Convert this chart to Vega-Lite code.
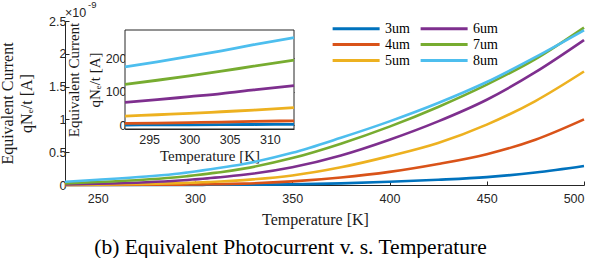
{
  "$schema": "https://vega.github.io/schema/vega-lite/v6.json",
  "width": 519,
  "height": 164,
  "autosize": {"type": "none"},
  "padding": {"left": 65, "top": 21, "right": 14, "bottom": 73},
  "background": "white",
  "config": {
    "view": {"stroke": null},
    "axis": {
      "grid": false,
      "domainColor": "#262626",
      "tickColor": "#262626",
      "labelColor": "#262626",
      "titleColor": "#1a1a1a",
      "labelFont": "Liberation Sans",
      "labelFontSize": 12.5,
      "labelOverlap": false,
      "titleFont": "Liberation Serif",
      "titleFontWeight": "normal",
      "titleFontSize": 16,
      "tickSize": -4,
      "domainWidth": 1,
      "tickWidth": 1
    },
    "legend": {
      "orient": "none",
      "legendX": 266,
      "legendY": 0,
      "columns": 2,
      "padding": 0,
      "symbolType": "M-1,0H7",
      "symbolSize": 138,
      "symbolStrokeWidth": 3,
      "labelOffset": 39,
      "labelFont": "Liberation Serif",
      "labelFontSize": 14,
      "labelFontWeight": "normal",
      "labelColor": "#000000",
      "rowPadding": 1,
      "columnPadding": 4
    }
  },
  "title": {
    "text": "(b) Equivalent Photocurrent v. s. Temperature",
    "orient": "bottom",
    "anchor": "middle",
    "font": "Liberation Serif",
    "fontSize": 21.5,
    "fontWeight": "normal",
    "color": "#000000",
    "dx": -34,
    "offset": 9
  },
  "datasets": {
    "pc": [
      {"T": 233.15, "d": "3um", "I": 0.0001}, {"T": 233.15, "d": "4um", "I": 0.0003}, {"T": 233.15, "d": "5um", "I": 0.002}, {"T": 233.15, "d": "6um", "I": 0.008}, {"T": 233.15, "d": "7um", "I": 0.025}, {"T": 233.15, "d": "8um", "I": 0.05},
      {"T": 250, "d": "3um", "I": 0.0002}, {"T": 250, "d": "4um", "I": 0.001}, {"T": 250, "d": "5um", "I": 0.006}, {"T": 250, "d": "6um", "I": 0.018}, {"T": 250, "d": "7um", "I": 0.045}, {"T": 250, "d": "8um", "I": 0.08},
      {"T": 275, "d": "3um", "I": 0.0006}, {"T": 275, "d": "4um", "I": 0.003}, {"T": 275, "d": "5um", "I": 0.015}, {"T": 275, "d": "6um", "I": 0.042}, {"T": 275, "d": "7um", "I": 0.085}, {"T": 275, "d": "8um", "I": 0.13},
      {"T": 292, "d": "3um", "I": 0.0015}, {"T": 292, "d": "4um", "I": 0.006}, {"T": 292, "d": "5um", "I": 0.028}, {"T": 292, "d": "6um", "I": 0.069}, {"T": 292, "d": "7um", "I": 0.123}, {"T": 292, "d": "8um", "I": 0.175},
      {"T": 296, "d": "3um", "I": 0.0018}, {"T": 296, "d": "4um", "I": 0.007}, {"T": 296, "d": "5um", "I": 0.032}, {"T": 296, "d": "6um", "I": 0.077}, {"T": 296, "d": "7um", "I": 0.135}, {"T": 296, "d": "8um", "I": 0.19},
      {"T": 300, "d": "3um", "I": 0.0021}, {"T": 300, "d": "4um", "I": 0.0085}, {"T": 300, "d": "5um", "I": 0.036}, {"T": 300, "d": "6um", "I": 0.086}, {"T": 300, "d": "7um", "I": 0.148}, {"T": 300, "d": "8um", "I": 0.206},
      {"T": 304, "d": "3um", "I": 0.0025}, {"T": 304, "d": "4um", "I": 0.010}, {"T": 304, "d": "5um", "I": 0.041}, {"T": 304, "d": "6um", "I": 0.095}, {"T": 304, "d": "7um", "I": 0.162}, {"T": 304, "d": "8um", "I": 0.223},
      {"T": 308, "d": "3um", "I": 0.003}, {"T": 308, "d": "4um", "I": 0.012}, {"T": 308, "d": "5um", "I": 0.046}, {"T": 308, "d": "6um", "I": 0.106}, {"T": 308, "d": "7um", "I": 0.177}, {"T": 308, "d": "8um", "I": 0.241},
      {"T": 313, "d": "3um", "I": 0.0036}, {"T": 313, "d": "4um", "I": 0.014}, {"T": 313, "d": "5um", "I": 0.053}, {"T": 313, "d": "6um", "I": 0.119}, {"T": 313, "d": "7um", "I": 0.195}, {"T": 313, "d": "8um", "I": 0.262},
      {"T": 325, "d": "3um", "I": 0.005}, {"T": 325, "d": "4um", "I": 0.021}, {"T": 325, "d": "5um", "I": 0.075}, {"T": 325, "d": "6um", "I": 0.155}, {"T": 325, "d": "7um", "I": 0.25}, {"T": 325, "d": "8um", "I": 0.32},
      {"T": 350, "d": "3um", "I": 0.01}, {"T": 350, "d": "4um", "I": 0.055}, {"T": 350, "d": "5um", "I": 0.145}, {"T": 350, "d": "6um", "I": 0.27}, {"T": 350, "d": "7um", "I": 0.41}, {"T": 350, "d": "8um", "I": 0.49},
      {"T": 375, "d": "3um", "I": 0.025}, {"T": 375, "d": "4um", "I": 0.115}, {"T": 375, "d": "5um", "I": 0.27}, {"T": 375, "d": "6um", "I": 0.45}, {"T": 375, "d": "7um", "I": 0.63}, {"T": 375, "d": "8um", "I": 0.72},
      {"T": 400, "d": "3um", "I": 0.05}, {"T": 400, "d": "4um", "I": 0.20}, {"T": 400, "d": "5um", "I": 0.44}, {"T": 400, "d": "6um", "I": 0.69}, {"T": 400, "d": "7um", "I": 0.89}, {"T": 400, "d": "8um", "I": 0.97},
      {"T": 425, "d": "3um", "I": 0.08}, {"T": 425, "d": "4um", "I": 0.32}, {"T": 425, "d": "5um", "I": 0.64}, {"T": 425, "d": "6um", "I": 0.97}, {"T": 425, "d": "7um", "I": 1.19}, {"T": 425, "d": "8um", "I": 1.25},
      {"T": 450, "d": "3um", "I": 0.12}, {"T": 450, "d": "4um", "I": 0.47}, {"T": 450, "d": "5um", "I": 0.92}, {"T": 450, "d": "6um", "I": 1.30}, {"T": 450, "d": "7um", "I": 1.53}, {"T": 450, "d": "8um", "I": 1.57},
      {"T": 475, "d": "3um", "I": 0.19}, {"T": 475, "d": "4um", "I": 0.69}, {"T": 475, "d": "5um", "I": 1.28}, {"T": 475, "d": "6um", "I": 1.72}, {"T": 475, "d": "7um", "I": 1.92}, {"T": 475, "d": "8um", "I": 1.95},
      {"T": 500, "d": "3um", "I": 0.29}, {"T": 500, "d": "4um", "I": 1.0}, {"T": 500, "d": "5um", "I": 1.73}, {"T": 500, "d": "6um", "I": 2.21}, {"T": 500, "d": "7um", "I": 2.40}, {"T": 500, "d": "8um", "I": 2.36}
    ]
  },
  "resolve": {
    "scale": {"x": "independent", "y": "independent"},
    "axis": {"x": "independent", "y": "independent"},
    "legend": {"color": "independent"}
  },
  "layer": [
    {
      "data": {"name": "pc"},
      "mark": {"type": "line", "strokeWidth": 2.6, "interpolate": "monotone"},
      "encoding": {
        "x": {
          "field": "T", "type": "quantitative",
          "scale": {"domain": [233.15, 500], "nice": false, "zero": false},
          "axis": {"orient": "bottom", "values": [250, 300, 350, 400, 450, 500], "title": "Temperature [K]", "labelPadding": 11, "titlePadding": 7, "titleX": 250}
        },
        "y": {
          "field": "I", "type": "quantitative",
          "scale": {"domain": [0, 2.5], "nice": false, "zero": false},
          "axis": {"orient": "left", "values": [0, 0.5, 1, 1.5, 2, 2.5], "labelExpr": "datum.value == 0 ? '0' : format(datum.value, '.2~f')", "labelOverlap": false, "labelPadding": 3, "title": ["Equivalent Current", "qNₑ/t [A]"], "titleLineHeight": 19, "titlePadding": 14}
        },
        "color": {
          "field": "d", "type": "nominal",
          "scale": {"domain": ["3um", "4um", "5um", "6um", "7um", "8um"], "range": ["#0072BD", "#D95319", "#EDB120", "#7E2F8E", "#77AC30", "#4DBEEE"]},
          "legend": {"title": null, "labelFont": "Liberation Serif", "labelFontSize": 14, "columns": 2}
        },
        "order": {"field": "T", "type": "quantitative"}
      }
    },
    {
      "data": {"values": [{}]},
      "mark": {"type": "text", "text": "×10", "font": "Liberation Sans", "fontSize": 12.5, "color": "#262626", "align": "left", "baseline": "alphabetic", "dx": 0, "dy": -4},
      "encoding": {
        "x": {"datum": 233.15, "type": "quantitative", "scale": {"domain": [233.15, 500], "nice": false, "zero": false}, "axis": null},
        "y": {"datum": 2.5, "type": "quantitative", "scale": {"domain": [0, 2.5], "nice": false, "zero": false}, "axis": null}
      }
    },
    {
      "data": {"values": [{}]},
      "mark": {"type": "text", "text": "-9", "font": "Liberation Sans", "fontSize": 9.5, "color": "#262626", "align": "left", "baseline": "alphabetic", "dx": 23, "dy": -13},
      "encoding": {
        "x": {"datum": 233.15, "type": "quantitative", "scale": {"domain": [233.15, 500], "nice": false, "zero": false}, "axis": null},
        "y": {"datum": 2.5, "type": "quantitative", "scale": {"domain": [0, 2.5], "nice": false, "zero": false}, "axis": null}
      }
    },
    {
      "data": {"values": [{}]},
      "mark": {"type": "rect", "fill": "white", "stroke": "#262626", "strokeWidth": 1},
      "encoding": {
        "x": {"datum": 292, "type": "quantitative", "scale": {"domain": [292, 313], "range": [60, 229], "nice": false, "zero": false},
              "axis": {"orient": "top", "offset": -9, "values": [295, 300, 305, 310], "labels": false, "domain": false, "title": null}},
        "x2": {"datum": 313},
        "y": {"datum": -0.0105, "type": "quantitative", "scale": {"domain": [-0.0105, 0.285], "range": [108, 9], "nice": false, "zero": false},
              "axis": {"orient": "right", "offset": -290, "values": [0, 0.1, 0.2], "labels": false, "domain": false, "title": null}},
        "y2": {"datum": 0.285}
      }
    },
    {
      "data": {"name": "pc"},
      "transform": [{"filter": "datum.T >= 292 && datum.T <= 313"}],
      "mark": {"type": "line", "strokeWidth": 2.8, "interpolate": "monotone"},
      "encoding": {
        "x": {
          "field": "T", "type": "quantitative",
          "scale": {"domain": [292, 313], "range": [60, 229], "nice": false, "zero": false},
          "axis": {"orient": "bottom", "offset": -56, "values": [295, 300, 305, 310], "title": "Temperature [K]", "titleFontSize": 15, "labelPadding": 8, "titlePadding": 3}
        },
        "y": {
          "field": "I", "type": "quantitative",
          "scale": {"domain": [-0.0105, 0.285], "range": [108, 9], "nice": false, "zero": false},
          "axis": {"orient": "left", "offset": -60, "values": [0, 0.1, 0.2], "labelExpr": "round(datum.value*1000)", "labelPadding": 3, "title": ["Equivalent Current", "qNₑ/t [A]"], "titleFontSize": 15, "titleLineHeight": 21, "titlePadding": 3}
        },
        "color": {"field": "d", "type": "nominal", "legend": null},
        "order": {"field": "T", "type": "quantitative"}
      }
    }
  ]
}
